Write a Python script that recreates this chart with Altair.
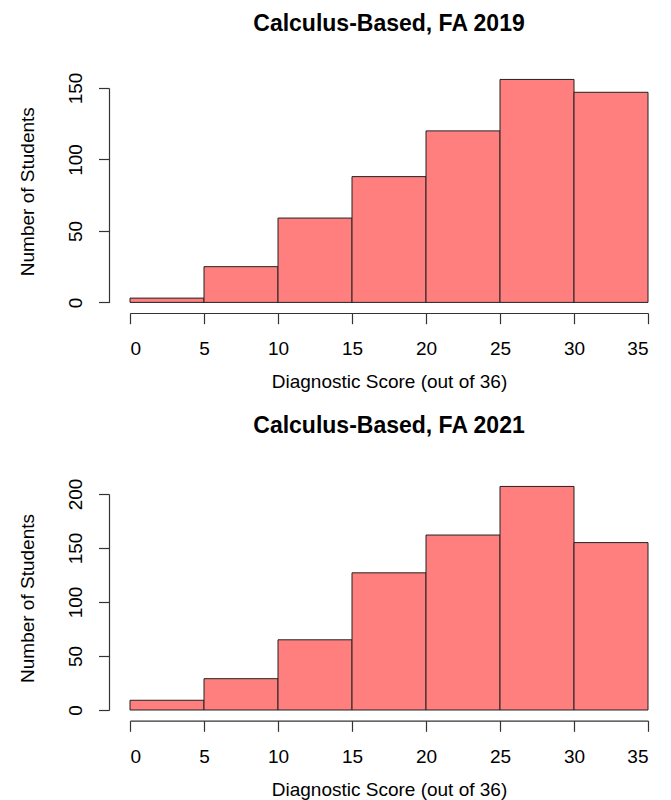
import altair as alt
import pandas as pd

bin_starts = [0, 5, 10, 15, 20, 25, 30]
bin_ends = [5, 10, 15, 20, 25, 30, 35]
counts_2019 = [3, 25, 59, 88, 120, 156, 147]
counts_2021 = [9, 29, 65, 127, 162, 207, 155]
x_ticks = [0, 5, 10, 15, 20, 25, 30, 35]

FONT = "Liberation Sans"
FILL = "#FF7F7F"


def panel(counts, title, y_ticks, height, title_offset):
    df = pd.DataFrame({"start": bin_starts, "end": bin_ends, "count": counts})
    return (
        alt.Chart(df, title=alt.TitleParams(
            title, font=FONT, fontSize=23, fontWeight="bold", color="black",
            anchor="middle", frame="group", baseline="alphabetic",
            offset=title_offset))
        .mark_rect(fill=FILL, stroke="#222222", strokeWidth=1)
        .encode(
            x=alt.X("start:Q",
                    scale=alt.Scale(domain=[0, 35], nice=False, zero=False),
                    axis=alt.Axis(values=x_ticks, format="d", offset=10.6,
                                  tickSize=10.7, labelPadding=31,
                                  labelBaseline="alphabetic",
                                  title="Diagnostic Score (out of 36)",
                                  titleBaseline="alphabetic", titleY=74.5)),
            x2="end:Q",
            y=alt.Y("count:Q",
                    scale=alt.Scale(domain=[0, y_ticks[-1]], nice=False),
                    axis=alt.Axis(values=y_ticks, format="d", offset=21,
                                  tickSize=10.5, labelPadding=17.2,
                                  labelAngle=270, labelAlign="center",
                                  labelBaseline="alphabetic",
                                  title="Number of Students",
                                  titleAngle=270, titleAlign="center",
                                  titleBaseline="alphabetic",
                                  titleX=-75.5, titleY=height / 2 - 4)),
        )
        .properties(width=518, height=height)
    )


top = panel(counts_2019, "Calculus-Based, FA 2019", [0, 50, 100, 150], 214.4, 18)
bottom = panel(counts_2021, "Calculus-Based, FA 2021", [0, 50, 100, 150, 200], 216, 22)

chart = (
    alt.vconcat(top, bottom, spacing=23)
    .properties(padding={"left": 10, "top": 5, "right": 5, "bottom": 5})
    .configure_view(stroke=None)
    .configure_axis(
        grid=False,
        domainColor="#333333", tickColor="#333333", domainWidth=1.2, tickWidth=1.2,
        labelFont=FONT, labelFontSize=19, labelColor="black",
        titleFont=FONT, titleFontSize=19, titleFontWeight="normal", titleColor="black",
    )
)

chart.save("out.html", embed_options={"renderer": "svg", "actions": False})
